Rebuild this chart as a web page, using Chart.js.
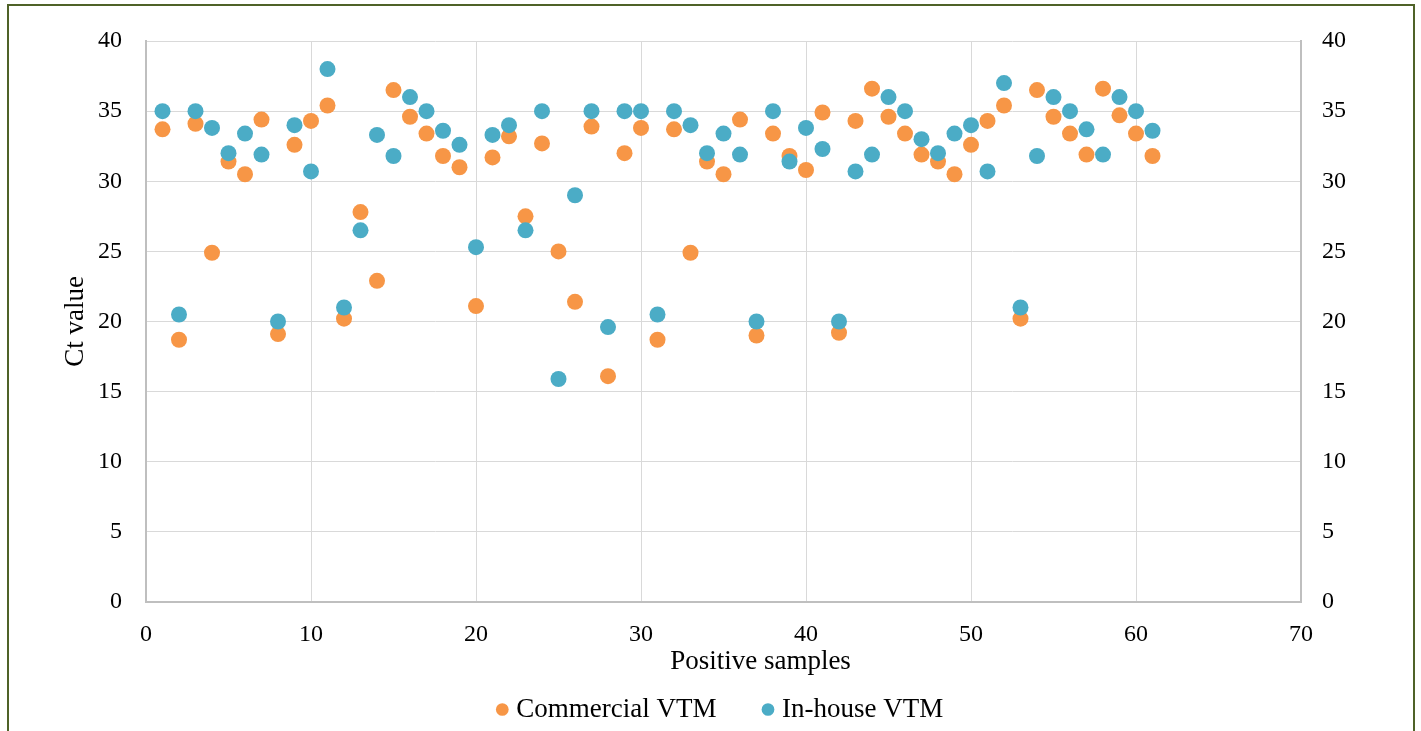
<!DOCTYPE html>
<html>
<head>
<title>Ct values</title>
<script src="https://cdn.jsdelivr.net/npm/chart.js@4.4.0/dist/chart.umd.min.js"></script>
<style>
body { margin: 0; background: #fff; }
.frame {
  position: absolute; left: 7px; top: 4px; width: 1404px; height: 740px;
  border: 2px solid #4f6228; border-bottom: none;
}
.chart-container { position: absolute; left: 0; top: 0; width: 1421px; height: 731px; }
</style>
</head>
<body>
<div class="frame"></div>
<div class="chart-container"><canvas id="ctChart" width="1421" height="731"></canvas></div>

<script>
// positive sample numbers (x values)
var samples = [1,2,3,4,5,6,7,8,9,10,11,12,13,14,15,16,17,18,19,20,
  21,22,23,24,25,26,27,28,29,30,31,32,33,34,35,36,37,38,39,40,
  41,42,43,44,45,46,47,48,49,50,51,52,53,54,55,56,57,58,59,60,61];

// Ct values
var commercial = [33.7,18.7,34.1,24.9,31.4,30.5,34.4,19.1,32.6,34.3,
  35.4,20.2,27.8,22.9,36.5,34.6,33.4,31.8,31.0,21.1,
  31.7,33.2,27.5,32.7,25.0,21.4,33.9,16.1,32.0,33.8,
  18.7,33.7,24.9,31.4,30.5,34.4,19.0,33.4,31.8,30.8,
  34.9,19.2,34.3,36.6,34.6,33.4,31.9,31.4,30.5,32.6,
  34.3,35.4,20.2,36.5,34.6,33.4,31.9,36.6,34.7,33.4,31.8];

var inhouse = [35.0,20.5,35.0,33.8,32.0,33.4,31.9,20.0,34.0,30.7,
  38.0,21.0,26.5,33.3,31.8,36.0,35.0,33.6,32.6,25.3,
  33.3,34.0,26.5,35.0,15.9,29.0,35.0,19.6,35.0,35.0,
  20.5,35.0,34.0,32.0,33.4,31.9,20.0,35.0,31.4,33.8,
  32.3,20.0,30.7,31.9,36.0,35.0,33.0,32.0,33.4,34.0,
  30.7,37.0,21.0,31.8,36.0,35.0,33.7,31.9,36.0,35.0,33.6];

var seriesNames = ["Commercial VTM", "In-house VTM"];
var xTitle = "Positive samples";
var yTitle = "Ct value";

function toPoints(ys) {
  var pts = [];
  for (var i = 0; i < samples.length; i++) {
    pts.push({x: samples[i], y: ys[i]});
  }
  return pts;
}

var serif = "'Liberation Serif', 'Times New Roman', serif";
var gridColor = "#d9d9d9";
var axisColor = "#bfbfbf";

// the x title sits a bit right of the plot centre in the original
var xTitlePlugin = {
  id: "xTitle",
  afterDraw: function(chart) {
    var area = chart.chartArea;
    var c = chart.ctx;
    c.save();
    c.font = "27px " + serif;
    c.fillStyle = "#000";
    c.textAlign = "center";
    c.textBaseline = "middle";
    c.fillText(xTitle, (area.left + area.right) / 2 + 37, area.bottom + 60);
    c.restore();
  }
};

var ctx = document.getElementById("ctChart");

var chart = new Chart(ctx, {
  type: "scatter",
  data: {
    datasets: [
      {
        label: seriesNames[0],
        data: toPoints(commercial),
        backgroundColor: "#f79646",
        borderColor: "#f79646",
        borderWidth: 0,
        pointRadius: 8,
        order: 2
      },
      {
        label: seriesNames[1],
        data: toPoints(inhouse),
        backgroundColor: "#4bacc6",
        borderColor: "#4bacc6",
        borderWidth: 0,
        pointRadius: 8,
        order: 1
      }
    ]
  },
  plugins: [xTitlePlugin],
  options: {
    responsive: false,
    animation: false,
    layout: { padding: { left: 12, right: -12, top: 41, bottom: -2 } },
    plugins: {
      tooltip: { enabled: false },
      legend: {
        position: "bottom",
        labels: {
          usePointStyle: true,
          pointStyle: "circle",
          boxWidth: 1,
          boxHeight: 9,
          padding: 51,
          color: "#000",
          font: { family: serif, size: 27 },
          sort: function(a, b) { return a.datasetIndex - b.datasetIndex; }
        }
      }
    },
    scales: {
      x: {
        type: "linear",
        min: 0, max: 70,
        ticks: { stepSize: 10, padding: 18, maxRotation: 0, color: "#000", font: { family: serif, size: 24 } },
        grid: { color: gridColor, lineWidth: 1, drawTicks: false },
        border: { color: axisColor, width: 2 },
        afterFit: function(scale) { scale.height = 43; }
      },
      y: {
        position: "left",
        min: 0, max: 40,
        ticks: { stepSize: 5, padding: 24, color: "#000", font: { family: serif, size: 24 } },
        grid: { color: gridColor, lineWidth: 1, drawTicks: false },
        border: { color: axisColor, width: 2 },
        title: {
          display: true, text: yTitle, color: "#000",
          font: { family: serif, size: 27 },
          padding: { top: 48, bottom: 0 }
        },
        afterFit: function(scale) { scale.width = 134; }
      },
      y2: {
        position: "right",
        min: 0, max: 40,
        ticks: { stepSize: 5, padding: 21, color: "#000", font: { family: serif, size: 24 } },
        grid: { display: false, drawTicks: false },
        border: { color: axisColor, width: 2 },
        afterFit: function(scale) { scale.width = 132; }
      }
    }
  }
});
</script>
</body>
</html>
